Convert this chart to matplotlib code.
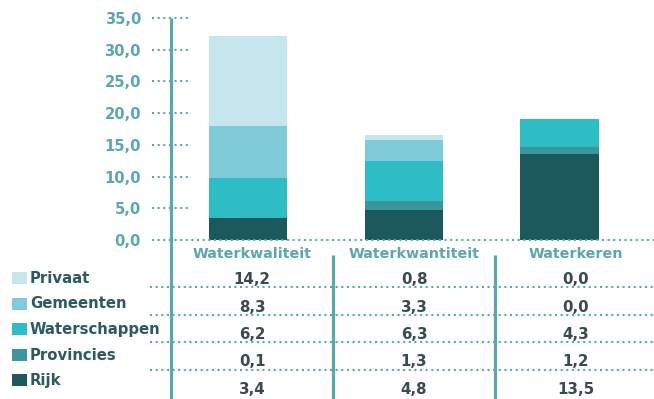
import matplotlib
matplotlib.use("Agg")
import matplotlib.pyplot as plt
from matplotlib.patches import Rectangle

# --- data -------------------------------------------------------------
categories = ["Waterkwaliteit", "Waterkwantiteit", "Waterkeren"]
series = ["Privaat", "Gemeenten", "Waterschappen", "Provincies", "Rijk"]
privaat = [14.2, 0.8, 0.0]
gemeenten = [8.3, 3.3, 0.0]
waterschappen = [6.2, 6.3, 4.3]
provincies = [0.1, 1.3, 1.2]
rijk = [3.4, 4.8, 13.5]
y_ticks = [0, 5, 10, 15, 20, 25, 30, 35]

values = {
    "Privaat": privaat,
    "Gemeenten": gemeenten,
    "Waterschappen": waterschappen,
    "Provincies": provincies,
    "Rijk": rijk,
}
colors = {
    "Privaat": "#c6e6ed",
    "Gemeenten": "#80cbd9",
    "Waterschappen": "#2ebdc5",
    "Provincies": "#3a989c",
    "Rijk": "#1b595d",
}

TEAL = "#5ba7ab"
LEGEND_TXT = "#2d5a5d"
VALUE_TXT = "#3b4b4d"
FONT = "DejaVu Sans"

def nl(v):
    return f"{v:.1f}".replace(".", ",")

# --- figure in pixel units --------------------------------------------
W, H = 654, 399
fig = plt.figure(figsize=(W / 100, H / 100), dpi=100)
fig.patch.set_facecolor("white")

def fx(px):
    return px / W

def fy(py):
    return 1 - py / H

# bar chart area
left, right, top, bottom = 171, 654, 18, 240
ax = fig.add_axes([fx(left), fy(bottom), fx(right - left), fy(top) - fy(bottom)])
ax.set_xlim(-0.4936, 2.603)
ax.set_ylim(0, 35)
ax.patch.set_alpha(0)
for s in ax.spines.values():
    s.set_visible(False)

xpos = list(range(len(categories)))
base = [0.0] * len(categories)
for name in reversed(series):
    vals = values[name]
    ax.bar(xpos, vals, bottom=base, width=0.506, color=colors[name],
           linewidth=0, zorder=2)
    base = [b + v for b, v in zip(base, vals)]

ax.set_xticks([])
ax.set_yticks(y_ticks)
ax.set_yticklabels([nl(v) for v in y_ticks], color=TEAL, fontsize=10.6,
                   fontweight="bold", family=FONT)
ax.tick_params(axis="y", length=0, pad=21.6)

dot = (0, (1, 1.7))
ytr = ax.get_yaxis_transform()
for v in y_ticks[1:]:
    ax.plot([-0.039, 0.039], [v, v], transform=ytr, color=TEAL, lw=1.5,
            linestyle=dot, clip_on=False, zorder=4)
ax.plot([-0.039, 1.0], [0, 0], transform=ytr, color=TEAL, lw=1.5,
        linestyle=dot, clip_on=False, zorder=4)

# --- table & legend overlay (pixel coordinates) ------------------------
ov = fig.add_axes([0, 0, 1, 1], zorder=3)
ov.set_xlim(0, W)
ov.set_ylim(H, 0)
ov.axis("off")
ov.patch.set_alpha(0)

# vertical grid lines
ov.plot([171, 171], [18, H], color=TEAL, lw=2.3, solid_capstyle="butt")
col_edges = [171, 333, 495, 657]
for xe in col_edges[1:3]:
    ov.plot([xe, xe], [255, H], color=TEAL, lw=2.3, solid_capstyle="butt")

col_centers = [(a + b) / 2 for a, b in zip(col_edges[:-1], col_edges[1:])]

# column headers
for cx, cat in zip(col_centers, categories):
    ov.text(cx, 258, cat, ha="center", va="baseline", color=TEAL,
            fontsize=10.3, fontweight="bold", family=FONT)

# value rows
row_base = [284, 311.5, 339, 366.5, 394]
for i, name in enumerate(series):
    for cx, v in zip(col_centers, values[name]):
        ov.text(cx, row_base[i], nl(v), ha="center", va="baseline",
                color=VALUE_TXT, fontsize=10.8, fontweight="bold", family=FONT)
    if i < len(series) - 1:
        ov.plot([150, W], [row_base[i] + 3] * 2, color=TEAL, lw=1.5,
                linestyle=dot)

# legend
leg_base = [283, 308.5, 334, 359.5, 385]
for i, name in enumerate(series):
    ov.add_patch(Rectangle((12, leg_base[i] - 11), 15, 12,
                           facecolor=colors[name], edgecolor="none"))
    ov.text(30, leg_base[i], name, ha="left", va="baseline",
            color=LEGEND_TXT, fontsize=10.7, fontweight="bold", family=FONT)

fig.savefig("out.png", dpi=100)
